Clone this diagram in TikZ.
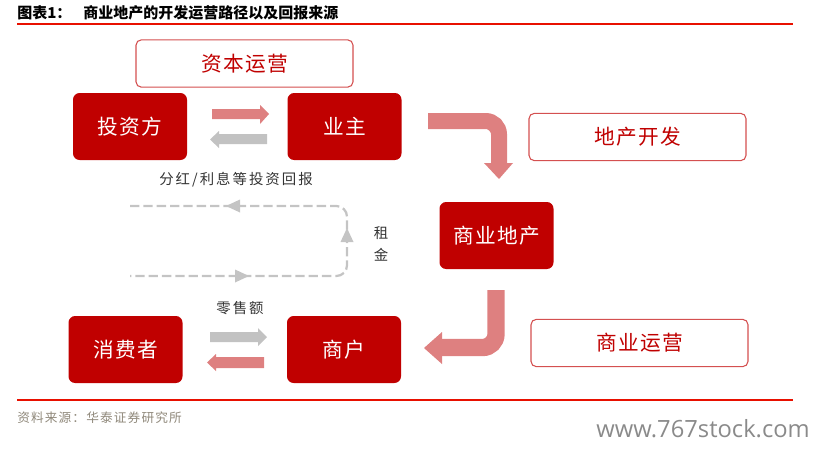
\documentclass[tikz,border=0pt]{standalone}
\usepackage{fontspec}
\setmainfont{Noto Sans CJK SC}
\newfontfamily\wmfont{Open Sans}
\newfontfamily\boxfont[LetterSpace=6]{Noto Sans CJK SC}
\newfontfamily\lblfont[LetterSpace=14]{Noto Sans CJK SC}
\newfontfamily\srcfont[LetterSpace=9]{Noto Sans CJK SC}
\definecolor{boxred}{HTML}{C00000}
\definecolor{linered}{HTML}{E81000}
\definecolor{pinkarrow}{HTML}{DE8080}
\definecolor{grayarrow}{HTML}{C2C2C2}
\definecolor{dashgray}{HTML}{C4C4C4}
\definecolor{outlinered}{HTML}{D45050}
\definecolor{labeltext}{HTML}{333333}
\definecolor{srctext}{HTML}{8F887A}
\definecolor{wmgray}{HTML}{8A8A8A}
\tikzset{
  redbox/.style={fill=boxred, rounded corners=5pt, text=white, inner sep=0pt,
    minimum width=85.5pt, minimum height=50.25pt, font=\boxfont\fontsize{15.5}{18}\selectfont},
  outlinebox/.style={draw=outlinered, line width=0.8pt, fill=white, rounded corners=4pt,
    text=boxred, inner sep=0pt, minimum width=162.75pt, minimum height=35.5pt,
    font=\boxfont\fontsize{15.5}{18}\selectfont},
  lbl/.style={text=labeltext, inner sep=0pt, font=\lblfont\fontsize{10.8}{16.5}\selectfont},
  dashline/.style={draw=dashgray, line width=1.7pt, dash pattern=on 7pt off 3pt},
  dashtip/.style={fill=dashgray},
  pinkblock/.style={fill=pinkarrow},
  grayblock/.style={fill=grayarrow},
}
\begin{document}
\begin{tikzpicture}[x=0.75pt,y=-0.75pt]
\useasboundingbox (0,0) rectangle (821,450);
% title
\node[anchor=west, inner sep=0pt, font=\fontsize{11.25}{13}\selectfont\bfseries] (title) at (17,12.5) {图表1：\hspace{9pt}商业地产的开发运营路径以及回报来源};
\draw[linered, line width=1.2pt] (17,24) -- (793,24);
\draw[linered, line width=0.9pt] (17,400) -- (793,400);

% boxes
\node[outlinebox] (zbyy) at (244.5,63.5) {资本运营};
\node[redbox] (tzf) at (130,126.5) {投资方};
\node[redbox] (yz) at (344.5,126.5) {业主};
\node[outlinebox] (dckf) at (637.5,137) {地产开发};
\node[redbox] (sydc) at (496.5,235.5) {商业地产};
\node[redbox] (xfz) at (125.5,349.5) {消费者};
\node[redbox] (sh) at (344,349.5) {商户};
\node[outlinebox] (syyy) at (639.5,343) {商业运营};

% straight block arrows top
\fill[pinkblock] (212,109) -- (260,109) -- (260,105) -- (269,114) -- (260,124) -- (260,119) -- (212,119) -- cycle;
\fill[grayblock] (267,134) -- (219,134) -- (219,131) -- (210,139.5) -- (219,148) -- (219,144) -- (267,144) -- cycle;
% straight block arrows bottom
\fill[grayblock] (210,332) -- (258,332) -- (258,328) -- (267,337) -- (258,346) -- (258,342) -- (210,342) -- cycle;
\fill[pinkblock] (264,357) -- (216,357) -- (216,354) -- (207,362.5) -- (216,371) -- (216,368) -- (264,368) -- cycle;

% bent arrow top
\draw[pinkarrow, line width=12pt, rounded corners=10pt] (428,121) -- (499,121) -- (499,163.5);
\fill[pinkblock] (484,163) -- (513,163) -- (499,179) -- cycle;
% bent arrow bottom
\draw[pinkarrow, line width=13pt, rounded corners=10pt] (496,290) -- (496,347.5) -- (441.5,347.5);
\fill[pinkblock] (442,332) -- (442,364) -- (424,348) -- cycle;

% dashed loop
\coordinate (dl1) at (130,206);
\coordinate (dl2) at (130,276);
\draw[dashline, rounded corners=8pt] (dl1) -- (347,206) -- (347,276) -- (dl2);
\fill[dashtip] (226,206) -- (240,199.5) -- (240,212.5) -- cycle;
\fill[dashtip] (347,228) -- (340.5,242) -- (353.5,242) -- cycle;
\fill[dashtip] (249,276) -- (235,269.5) -- (235,282.5) -- cycle;

% labels
\node[lbl] (fh) at (236,180) {分红/利息等投资回报};
\node[lbl, align=center] (zj) at (381,244) {租\\金};
\node[lbl] (lse) at (240,308) {零售额};
\node[anchor=west, inner sep=0pt, text=srctext, font=\srcfont\fontsize{9.5}{11}\selectfont] (src) at (17,418) {资料来源：华泰证券研究所};
\node[anchor=base east, inner sep=0pt, text=wmgray, font=\wmfont\fontsize{17.8}{20}\selectfont] (wm) at (810,437) {www.767stock.com};
\end{tikzpicture}
\end{document}
